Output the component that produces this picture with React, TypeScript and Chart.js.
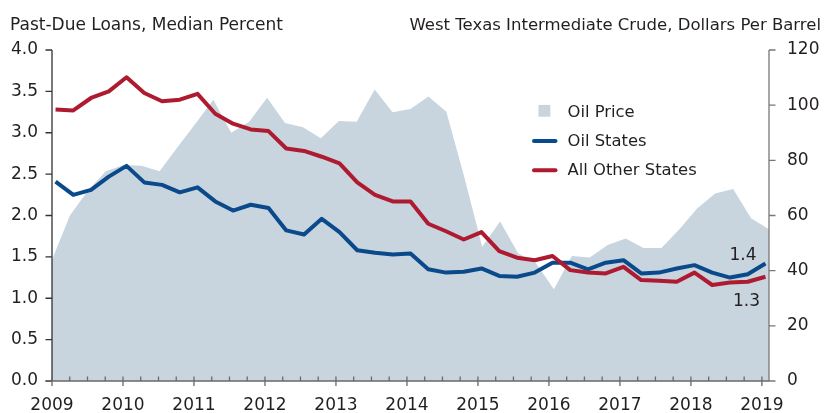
import React, { useEffect, useRef } from 'react';
import { Chart, registerables } from 'chart.js';

Chart.register(...registerables);

// ---- data ----
const quarters = [
  '2009Q1', '2009Q2', '2009Q3', '2009Q4',
  '2010Q1', '2010Q2', '2010Q3', '2010Q4',
  '2011Q1', '2011Q2', '2011Q3', '2011Q4',
  '2012Q1', '2012Q2', '2012Q3', '2012Q4',
  '2013Q1', '2013Q2', '2013Q3', '2013Q4',
  '2014Q1', '2014Q2', '2014Q3', '2014Q4',
  '2015Q1', '2015Q2', '2015Q3', '2015Q4',
  '2016Q1', '2016Q2', '2016Q3', '2016Q4',
  '2017Q1', '2017Q2', '2017Q3', '2017Q4',
  '2018Q1', '2018Q2', '2018Q3', '2018Q4',
  '2019Q1',
];

// West Texas Intermediate crude, dollars per barrel (right axis)
const oilPrice = [
  44, 60, 69, 76, 78.3, 78, 76, 84.7, 93.3, 102,
  90, 94, 102.7, 93.5, 92, 88, 94.3, 94, 105.7, 97.4,
  98.6, 103.1, 97.6, 74, 48.7, 57.8, 46.3, 42.7, 33.3, 45.3,
  44.8, 49.3, 51.7, 48.2, 48.2, 55, 62.6, 68, 69.6, 59,
  55,
];

// Past-due loans, median percent (left axis)
const oilStates = [
  2.41, 2.25, 2.31, 2.47, 2.6, 2.4, 2.37, 2.28, 2.34, 2.17,
  2.06, 2.13, 2.09, 1.82, 1.77, 1.96, 1.8, 1.58, 1.55, 1.53,
  1.54, 1.35, 1.31, 1.32, 1.36, 1.27, 1.26, 1.31, 1.43, 1.43,
  1.35, 1.43, 1.46, 1.3, 1.31, 1.36, 1.4, 1.31, 1.25, 1.29,
  1.42,
];

const otherStates = [
  3.28, 3.27, 3.42, 3.5, 3.67, 3.48, 3.38, 3.4, 3.47, 3.23,
  3.11, 3.04, 3.02, 2.81, 2.78, 2.71, 2.63, 2.4, 2.25, 2.17,
  2.17, 1.9, 1.81, 1.71, 1.8, 1.57, 1.49, 1.46, 1.51, 1.34,
  1.31, 1.3, 1.38, 1.22, 1.21, 1.2, 1.31, 1.16, 1.19, 1.2,
  1.26,
];

const leftTitle = 'Past-Due Loans, Median Percent';
const rightTitle = 'West Texas Intermediate Crude, Dollars Per Barrel';
const seriesNames = ['Oil Price', 'Oil States', 'All Other States'];

const FONT = "'DejaVu Sans', sans-serif";
const TEXT = '#231f20';
const AREA = '#c8d5df';
const BLUE = '#0a4a8a';
const RED = '#ae1a2f';

const quarterPos = (q: string) =>
  Number(q.slice(0, 4)) + (Number(q.slice(5)) - 1) * 0.25 + 0.05;

const decor = {
  id: 'decor',
  afterDatasetsDraw(chart: any) {
    const { ctx, chartArea: a, scales } = chart;
    const xs = scales.x;
    const ys = scales.y;
    const y1 = scales.y1;
    ctx.save();
    ctx.lineWidth = 1.3;
    ctx.lineCap = 'butt';

    // left axis
    ctx.strokeStyle = '#333333';
    ctx.beginPath();
    ctx.moveTo(a.left, a.top);
    ctx.lineTo(a.left, a.bottom);
    ys.ticks.forEach((t: any) => {
      const py = ys.getPixelForValue(t.value);
      ctx.moveTo(a.left - 6.5, py);
      ctx.lineTo(a.left, py);
    });
    ctx.stroke();

    // right axis
    ctx.strokeStyle = '#777777';
    ctx.beginPath();
    ctx.moveTo(a.right, a.top);
    ctx.lineTo(a.right, a.bottom);
    y1.ticks.forEach((t: any) => {
      const py = y1.getPixelForValue(t.value);
      ctx.moveTo(a.right, py);
      ctx.lineTo(a.right + 6.5, py);
    });
    ctx.stroke();

    // x axis
    ctx.strokeStyle = '#6a6a6a';
    ctx.beginPath();
    ctx.moveTo(a.left - 6.5, a.bottom);
    ctx.lineTo(a.right, a.bottom);
    const last = xs.ticks[xs.ticks.length - 1].value;
    xs.ticks.forEach((t: any) => {
      const px = xs.getPixelForValue(t.value);
      ctx.moveTo(px, a.bottom - 4.5);
      ctx.lineTo(px, a.bottom + 5);
      if (t.value < last) {
        [0.25, 0.5, 0.75].forEach((f) => {
          const mx = xs.getPixelForValue(t.value + f);
          ctx.moveTo(mx, a.bottom - 4.5);
          ctx.lineTo(mx, a.bottom);
        });
      }
    });
    ctx.stroke();
    ctx.restore();
  },
  afterDraw(chart: any) {
    const { ctx } = chart;
    ctx.save();
    ctx.fillStyle = TEXT;
    ctx.textBaseline = 'alphabetic';
    ctx.font = `17px ${FONT}`;
    ctx.textAlign = 'left';
    ctx.fillText(leftTitle, 10, 29.5);
    ctx.font = `16.5px ${FONT}`;
    ctx.textAlign = 'right';
    ctx.fillText(rightTitle, 821, 29.5);

    // legend
    const lx = 532;
    const tx = 567.5;
    const base = [116.7, 145.8, 175];
    ctx.font = `16.4px ${FONT}`;
    ctx.textAlign = 'left';
    ctx.fillStyle = AREA;
    ctx.fillRect(538.5, base[0] - 11.8, 11.8, 11.8);
    ctx.lineCap = 'round';
    ctx.lineWidth = 4;
    ctx.strokeStyle = BLUE;
    ctx.beginPath();
    ctx.moveTo(lx + 2, base[1] - 4.7);
    ctx.lineTo(lx + 23.5, base[1] - 4.7);
    ctx.stroke();
    ctx.strokeStyle = RED;
    ctx.beginPath();
    ctx.moveTo(lx + 2, base[2] - 4.7);
    ctx.lineTo(lx + 23.5, base[2] - 4.7);
    ctx.stroke();
    ctx.fillStyle = TEXT;
    seriesNames.forEach((n, i) => ctx.fillText(n, tx, base[i]));

    // end labels
    ctx.font = `17px ${FONT}`;
    ctx.textAlign = 'right';
    const mb = chart.getDatasetMeta(1).data;
    const pb = mb[mb.length - 1];
    ctx.fillText(oilStates[oilStates.length - 1].toFixed(1), pb.x - 9, pb.y - 3.3);
    const mr = chart.getDatasetMeta(2).data;
    const pr = mr[mr.length - 1];
    ctx.fillText(otherStates[otherStates.length - 1].toFixed(1), pr.x - 5.5, pr.y + 29);
    ctx.restore();
  },
};

export default function App() {
  const ref = useRef<HTMLCanvasElement | null>(null);

  useEffect(() => {
    if (!ref.current) return;
    const tickFont = { family: FONT, size: 17 };
    const chart = new Chart(ref.current, {
      type: 'line',
      data: {
        datasets: [
          {
            label: seriesNames[0],
            data: oilPrice.map((v, i) => ({ x: i, y: v })),
            xAxisID: 'xArea',
            yAxisID: 'y1',
            fill: 'origin',
            backgroundColor: AREA,
            borderColor: 'transparent',
            borderWidth: 0,
            pointRadius: 0,
            tension: 0,
            order: 3,
          },
          {
            label: seriesNames[1],
            data: quarters.map((q, i) => ({ x: quarterPos(q), y: oilStates[i] })),
            xAxisID: 'x',
            yAxisID: 'y',
            borderColor: BLUE,
            borderWidth: 4,
            pointRadius: 0,
            fill: false,
            tension: 0,
            borderJoinStyle: 'round',
            order: 2,
          },
          {
            label: seriesNames[2],
            data: quarters.map((q, i) => ({ x: quarterPos(q), y: otherStates[i] })),
            xAxisID: 'x',
            yAxisID: 'y',
            borderColor: RED,
            borderWidth: 4,
            pointRadius: 0,
            fill: false,
            tension: 0,
            borderJoinStyle: 'round',
            order: 1,
          },
        ],
      },
      options: {
        responsive: false,
        animation: false,
        devicePixelRatio: 1,
        layout: { padding: { top: 50, left: 0, right: 0, bottom: 0 } },
        plugins: {
          legend: { display: false },
          tooltip: { enabled: false },
          title: { display: false },
        },
        scales: {
          x: {
            type: 'linear',
            position: 'bottom',
            min: 2009,
            max: 2019.1,
            afterFit: (s: any) => { s.height = 32; },
            grid: { display: false, drawTicks: false },
            border: { display: false },
            ticks: {
              stepSize: 1,
              includeBounds: false,
              autoSkip: false,
              maxRotation: 0,
              padding: 14.5,
              color: TEXT,
              font: tickFont,
              callback: (v: any) => (Number.isInteger(v) ? String(v) : ''),
            },
          },
          xArea: {
            type: 'linear',
            display: false,
            min: 0,
            max: oilPrice.length - 1,
          },
          y: {
            position: 'left',
            min: 0,
            max: 4,
            afterFit: (s: any) => { s.width = 52; },
            grid: { display: false, drawTicks: false },
            border: { display: false },
            ticks: {
              stepSize: 0.5,
              padding: 14,
              color: TEXT,
              font: tickFont,
              callback: (v: any) => Number(v).toFixed(1),
            },
          },
          y1: {
            position: 'right',
            min: 0,
            max: 120,
            afterFit: (s: any) => { s.width = 55; },
            grid: { display: false, drawTicks: false },
            border: { display: false },
            ticks: {
              stepSize: 20,
              padding: 18,
              color: TEXT,
              font: tickFont,
              callback: (v: any) => String(v),
            },
          },
        },
      },
      plugins: [decor],
    } as any);
    return () => chart.destroy();
  }, []);

  return (
    <div style={{ position: 'fixed', left: 0, top: 0, width: 824, height: 413, background: '#fff' }}>
      <canvas ref={ref} width={824} height={413} style={{ display: 'block', width: 824, height: 413 }} />
    </div>
  );
}
